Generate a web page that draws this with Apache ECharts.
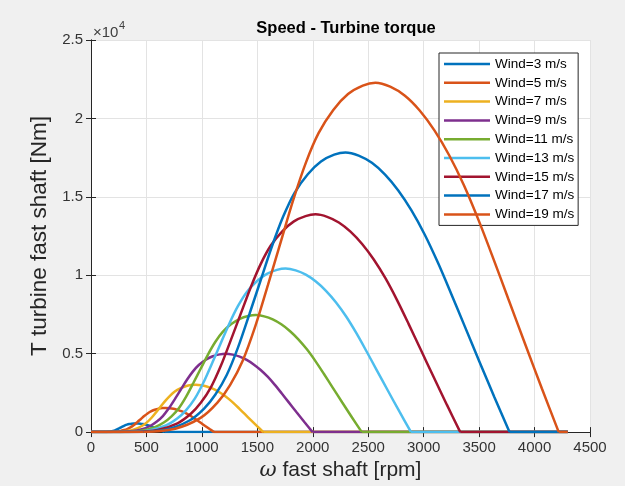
<!DOCTYPE html>
<html>
<head>
<meta charset="utf-8">
<script src="https://cdn.jsdelivr.net/npm/echarts@6/dist/echarts.min.js"></script>
<style>
  html, body { margin: 0; padding: 0; background: #f0f0f0; }
  #chart { width: 625px; height: 486px; }
</style>
</head>
<body>
<div id="chart"></div>
<script>
// wind speeds shown in the legend
const windSpeeds = [3, 5, 7, 9, 11, 13, 15, 17, 19]

// curves: [omega fast shaft (rpm), torque (Nm)]
const wind3 = [[0,0],[75,0],[120,5],[156,23],[180,47],[198,75],[216,113],[234,168],[252,234],[270,302],[288,369],[306,428],[324,475],[345,512],[366,537],[387,551],[405,555],[426,549],[447,535],[468,511],[489,480],[510,440],[531,392],[552,337],[573,275],[594,212],[618,140],[642,69],[666,0],[4300,0]]
const wind5 = [[0,0],[125,0],[200,15],[260,63],[300,130],[330,208],[360,315],[390,468],[420,650],[450,838],[480,1025],[510,1190],[540,1320],[575,1423],[610,1493],[645,1530],[675,1543],[710,1525],[745,1485],[780,1420],[815,1333],[850,1223],[885,1090],[920,935],[955,765],[990,590],[1030,390],[1070,193],[1110,0],[4300,0]]
const wind7 = [[0,0],[175,0],[280,29],[364,123],[420,255],[462,407],[504,617],[546,916],[588,1274],[630,1642],[672,2009],[714,2332],[756,2587],[805,2788],[854,2925],[903,2999],[945,3023],[994,2989],[1043,2911],[1092,2783],[1141,2612],[1190,2396],[1239,2136],[1288,1833],[1337,1499],[1386,1156],[1442,764],[1498,377],[1554,0],[4300,0]]
const wind9 = [[0,0],[225,0],[360,49],[468,203],[540,421],[594,672],[648,1021],[702,1515],[756,2106],[810,2714],[864,3321],[918,3856],[972,4277],[1035,4609],[1098,4836],[1161,4957],[1215,4998],[1278,4941],[1341,4811],[1404,4601],[1467,4317],[1530,3961],[1593,3532],[1656,3029],[1719,2479],[1782,1912],[1854,1264],[1926,624],[1998,0],[4300,0]]
const wind11 = [[0,0],[275,0],[440,73],[572,303],[660,629],[726,1004],[792,1525],[858,2263],[924,3146],[990,4054],[1056,4961],[1122,5760],[1188,6389],[1265,6885],[1342,7224],[1419,7405],[1485,7466],[1562,7381],[1639,7187],[1716,6873],[1793,6449],[1870,5917],[1947,5276],[2024,4525],[2101,3703],[2178,2856],[2266,1888],[2354,932],[2442,0],[4300,0]]
const wind13 = [[0,0],[325,0],[520,101],[676,423],[780,879],[858,1403],[936,2129],[1014,3160],[1092,4394],[1170,5662],[1248,6929],[1326,8044],[1404,8923],[1495,9616],[1586,10089],[1677,10343],[1755,10427],[1846,10309],[1937,10039],[2028,9599],[2119,9008],[2210,8264],[2301,7368],[2392,6321],[2483,5171],[2574,3988],[2678,2636],[2782,1301],[2886,0],[4300,0]]
const wind15 = [[0,0],[375,0],[600,135],[780,563],[900,1170],[990,1868],[1080,2835],[1170,4208],[1260,5850],[1350,7538],[1440,9225],[1530,10710],[1620,11880],[1725,12803],[1830,13433],[1935,13770],[2025,13883],[2130,13725],[2235,13365],[2340,12780],[2445,11993],[2550,11003],[2655,9810],[2760,8415],[2865,6885],[2970,5310],[3090,3510],[3210,1733],[3330,0],[4300,0]]
const wind17 = [[0,0],[425,0],[680,173],[884,723],[1020,1503],[1122,2399],[1224,3641],[1326,5404],[1428,7514],[1530,9682],[1632,11849],[1734,13756],[1836,15259],[1955,16444],[2074,17253],[2193,17687],[2295,17831],[2414,17629],[2533,17167],[2652,16415],[2771,15404],[2890,14132],[3009,12600],[3128,10809],[3247,8843],[3366,6820],[3502,4508],[3638,2225],[3774,0],[4300,0]]
const wind19 = [[0,0],[475,0],[760,217],[988,903],[1140,1877],[1254,2996],[1368,4549],[1482,6751],[1596,9386],[1710,12094],[1824,14801],[1938,17184],[2052,19061],[2185,20541],[2318,21552],[2451,22093],[2565,22274],[2698,22021],[2831,21443],[2964,20505],[3097,19241],[3230,17653],[3363,15740],[3496,13501],[3629,11047],[3762,8520],[3914,5632],[4066,2780],[4218,0],[4300,0]]

const curves = [wind3, wind5, wind7, wind9, wind11, wind13, wind15, wind17, wind19]
const colors = ['#0072BD', '#D95319', '#EDB120', '#7E2F8E', '#77AC30', '#4DBEEE', '#A2142F', '#0072BD', '#D95319']

const font = 'Liberation Sans, Arial, Helvetica, sans-serif'
const axisColor = '#262626'
const gridColor = '#e3e3e3'

const chart = echarts.init(document.getElementById('chart'))

// 每条曲线拆成：平直的零段（折线）+ 中间的弧段（平滑），保证过零处的尖角
const series = []
curves.forEach((d, i) => {
  const name = 'Wind=' + windSpeeds[i] + ' m/s'
  const n = d.length
  const base = {
    name: name,
    type: 'line',
    symbol: 'none',
    showSymbol: false,
    lineStyle: { width: 2.5, color: colors[i] },
    itemStyle: { color: colors[i] },
    z: 2 + i
  }
  series.push(Object.assign({}, base, { data: d.slice(0, 2) }))
  series.push(Object.assign({}, base, { data: d.slice(1, n - 1), smooth: 0.3 }))
  series.push(Object.assign({}, base, { data: d.slice(n - 2) }))
})

// 坐标框四边都带刻度（MATLAB 风格）
const tickStyle = { show: true, inside: true, length: 5, lineStyle: { color: axisColor } }

chart.setOption({
  backgroundColor: '#f0f0f0',
  animation: false,
  textStyle: { fontFamily: font },
  title: {
    text: 'Speed - Turbine torque',
    left: 341,
    top: 15,
    textAlign: 'center',
    textStyle: { fontSize: 16.5, fontWeight: 'bold', color: '#000', fontFamily: font }
  },
  legend: {
    orient: 'vertical',
    left: 439,
    top: 53,
    padding: [4, 4, 4, 5],
    backgroundColor: '#fff',
    borderColor: axisColor,
    borderWidth: 1,
    borderRadius: 0,
    icon: 'rect',
    itemWidth: 46,
    itemHeight: 2.5,
    itemGap: 4.8,
    textStyle: { fontSize: 13.5, color: '#000', lineHeight: 14, fontFamily: font },
    data: windSpeeds.map(v => 'Wind=' + v + ' m/s')
  },
  grid: {
    left: 91, right: 35, top: 40, bottom: 53,
    show: true, backgroundColor: '#fff', borderWidth: 0
  },
  xAxis: [{
    type: 'value', min: 0, max: 4500, interval: 500,
    name: '{w|ω} fast shaft [rpm]',
    nameLocation: 'middle', nameGap: 24,
    nameTextStyle: { fontSize: 21, color: '#262626', fontFamily: font,
      rich: { w: { fontSize: 21, fontStyle: 'italic', fontFamily: 'DejaVu Serif, serif', color: '#262626' } } },
    axisLine: { show: true, lineStyle: { color: axisColor } },
    axisTick: tickStyle,
    axisLabel: { fontSize: 15, color: '#333', margin: 8, formatter: v => String(v) },
    splitLine: { show: true, lineStyle: { color: gridColor } }
  }, {
    type: 'value', min: 0, max: 4500, interval: 500, position: 'top',
    axisLine: { show: true, lineStyle: { color: axisColor } },
    axisTick: tickStyle, axisLabel: { show: false }, splitLine: { show: false }
  }],
  yAxis: [{
    type: 'value', min: 0, max: 25000, interval: 5000,
    name: 'T turbine fast shaft [Nm]',
    nameLocation: 'middle', nameGap: 39,
    nameTextStyle: { fontSize: 22.5, color: '#262626', fontFamily: font },
    axisLine: { show: true, lineStyle: { color: axisColor } },
    axisTick: tickStyle,
    axisLabel: { fontSize: 15, color: '#333', margin: 8, formatter: v => String(v / 10000) },
    splitLine: { show: true, lineStyle: { color: gridColor } }
  }, {
    type: 'value', min: 0, max: 25000, interval: 5000, position: 'right',
    axisLine: { show: true, lineStyle: { color: axisColor } },
    axisTick: tickStyle, axisLabel: { show: false }, splitLine: { show: false }
  }],
  graphic: [
    { type: 'text', left: 93, top: 25, style: { text: '×10', fontSize: 15, fill: '#404040', fontFamily: font } },
    { type: 'text', left: 119, top: 20, style: { text: '4', fontSize: 11, fill: '#404040', fontFamily: font } }
  ],
  series: series
})
</script>
</body>
</html>
